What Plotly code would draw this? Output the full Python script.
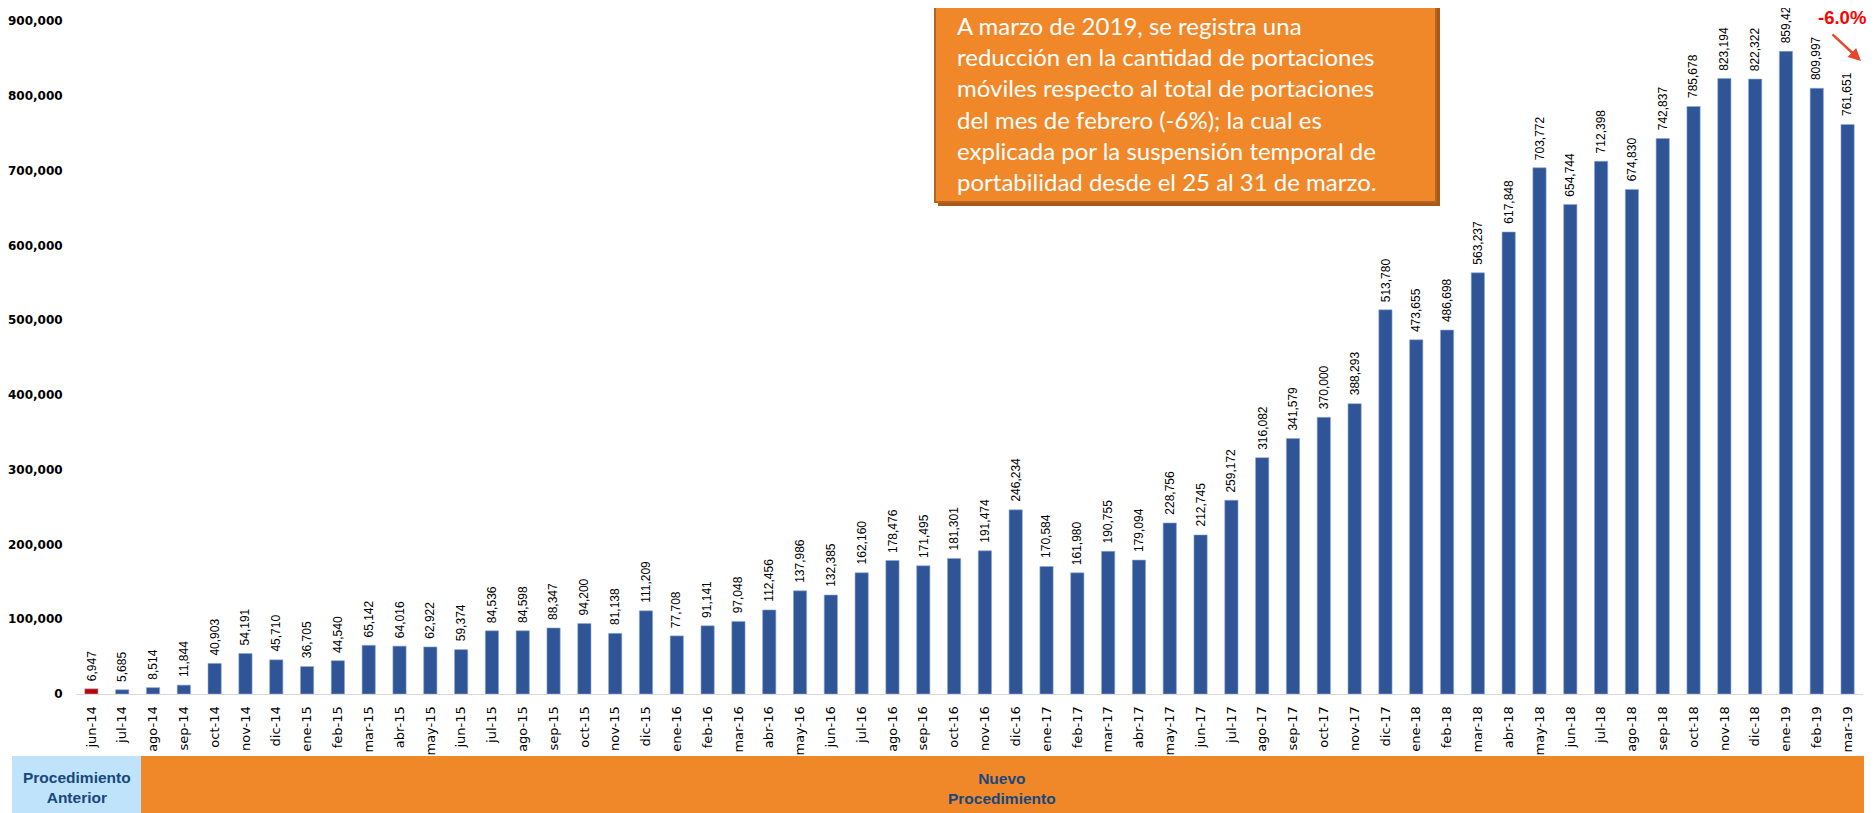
import plotly.graph_objects as go

months = ["jun-14","jul-14","ago-14","sep-14","oct-14","nov-14","dic-14",
          "ene-15","feb-15","mar-15","abr-15","may-15","jun-15","jul-15","ago-15","sep-15","oct-15","nov-15","dic-15",
          "ene-16","feb-16","mar-16","abr-16","may-16","jun-16","jul-16","ago-16","sep-16","oct-16","nov-16","dic-16",
          "ene-17","feb-17","mar-17","abr-17","may-17","jun-17","jul-17","ago-17","sep-17","oct-17","nov-17","dic-17",
          "ene-18","feb-18","mar-18","abr-18","may-18","jun-18","jul-18","ago-18","sep-18","oct-18","nov-18","dic-18",
          "ene-19","feb-19","mar-19"]
portaciones = [6947, 5685, 8514, 11844, 40903, 54191, 45710,
               36705, 44540, 65142, 64016, 62922, 59374, 84536, 84598, 88347, 94200, 81138, 111209,
               77708, 91141, 97048, 112456, 137986, 132385, 162160, 178476, 171495, 181301, 191474, 246234,
               170584, 161980, 190755, 179094, 228756, 212745, 259172, 316082, 341579, 370000, 388293, 513780,
               473655, 486698, 563237, 617848, 703772, 654744, 712398, 674830, 742837, 785678, 823194, 822322,
               859428, 809997, 761651]
y_ticks = [0, 100000, 200000, 300000, 400000, 500000, 600000, 700000, 800000, 900000]
nota = ("A marzo de 2019, se registra una<br>reducción en la cantidad de portaciones<br>"
        "móviles respecto al total de portaciones<br>del mes de febrero (-6%); la cual es<br>"
        "explicada por la suspensión temporal de<br>portabilidad desde el 25 al 31 de marzo.")
variacion = "-6.0%"
etapa_ant = "Procedimiento<br>Anterior"
etapa_nuevo = "Nuevo<br>Procedimiento"

# page body has an 8px margin; work in page pixel coordinates
OFF = 8
W, H = 1876 - OFF, 813 - OFF
PLOT_L, PLOT_R, PLOT_T, PLOT_B = 76, 1863, 21, 694   # page px
L, T = PLOT_L - OFF, PLOT_T - OFF
R = W - (PLOT_R - OFF)
B = H - (PLOT_B - OFF)
PW, PH = PLOT_R - PLOT_L, PLOT_B - PLOT_T

def px(x):
    return (x - PLOT_L) / PW

def py(y):
    return (PLOT_B - y) / PH

BLUE = "#2F5597"
colors = ["#C00000"] + [BLUE] * (len(months) - 1)

fig = go.Figure()
fig.add_trace(go.Bar(
    x=months, y=portaciones,
    marker=dict(color=colors, line=dict(color="#8FAADC", width=0.6)),
    hoverinfo="x+y",
))

annotations = []
for m, v in zip(months, portaciones):
    annotations.append(dict(
        x=m, y=v, xref="x", yref="y", text=f"{v:,}", textangle=-90,
        showarrow=False, yanchor="bottom", xanchor="center", yshift=6,
        font=dict(family="Liberation Sans, Arial", size=12, color="#000000"),
    ))

# Note box text
annotations.append(dict(
    x=px(955), y=py(103), xref="paper", yref="paper", xanchor="left", yanchor="middle",
    text=nota, showarrow=False, align="left",
    font=dict(family="Lato", size=24, color="#FFFFFF"),
))
# -6.0% label and arrow
annotations.append(dict(
    x=px(1868), y=py(17), xref="paper", yref="paper", xanchor="right", yanchor="middle",
    text=f"<b>{variacion}</b>", showarrow=False,
    font=dict(family="Liberation Sans, Arial", size=18.5, color="#FF0000"),
))
annotations.append(dict(
    x=px(1861), y=py(61), xref="paper", yref="paper", text="", showarrow=True,
    ax=-30, ay=-28, arrowhead=2, arrowsize=1, arrowwidth=2.5, arrowcolor="#E8472B",
))
# Bottom band labels
annotations.append(dict(
    x=px(77), y=py(787), xref="paper", yref="paper", xanchor="center", yanchor="middle",
    text=f"<b>{etapa_ant}</b>", showarrow=False,
    font=dict(family="Liberation Sans, Arial", size=15.5, color="#17477E"),
))
annotations.append(dict(
    x=px(1002), y=py(788), xref="paper", yref="paper", xanchor="center", yanchor="middle",
    text=f"<b>{etapa_nuevo}</b>", showarrow=False,
    font=dict(family="Liberation Sans, Arial", size=15.5, color="#17477E"),
))

shapes = [
    # shadow of note box
    dict(type="rect", xref="paper", yref="paper", x0=px(938), x1=px(1440), y0=py(-10), y1=py(206),
         fillcolor="#A85A1A", line=dict(width=0), layer="above"),
    dict(type="rect", xref="paper", yref="paper", x0=px(935), x1=px(1436), y0=py(-10), y1=py(202),
         fillcolor="#F0882A", line=dict(color="#B8621F", width=2), layer="above"),
    # bottom bands
    dict(type="rect", xref="paper", yref="paper", x0=px(12), x1=px(141), y0=py(820), y1=py(756),
         fillcolor="#BFE3FA", line=dict(width=0)),
    dict(type="rect", xref="paper", yref="paper", x0=px(141), x1=px(1864), y0=py(820), y1=py(756),
         fillcolor="#F0882A", line=dict(width=0)),
]

fig.update_layout(
    template="none",
    width=W, height=H,
    margin=dict(l=L, r=R, t=T, b=B, autoexpand=False),
    paper_bgcolor="#FFFFFF", plot_bgcolor="#FFFFFF",
    bargap=0.57, showlegend=False,
    annotations=annotations, shapes=shapes,
    xaxis=dict(type="category", showgrid=False, zeroline=False, showline=True,
               linecolor="#D9D9D9", linewidth=1, tickangle=-90,
               ticks="outside", ticklen=6, tickcolor="rgba(0,0,0,0)", automargin=False,
               tickfont=dict(family="DejaVu Sans", size=13, color="#000000")),
    yaxis=dict(range=[0, 900000], tickvals=y_ticks, tickformat=",", showgrid=False,
               zeroline=False, showline=False, ticks="outside", ticklen=10,
               tickcolor="rgba(0,0,0,0)", automargin=False,
               tickfont=dict(family="DejaVu Sans", size=12, color="#000000", weight="bold")),
)

fig.write_html("out.html")
